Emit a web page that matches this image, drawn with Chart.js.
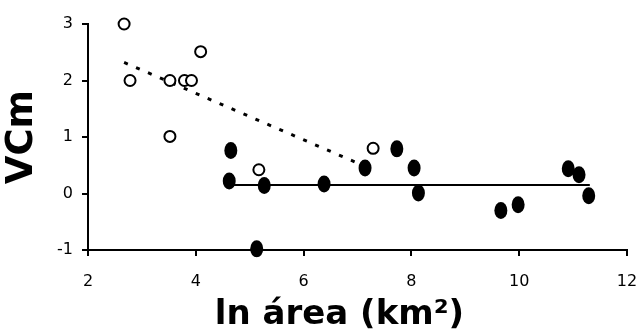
<!DOCTYPE html>
<html>
<head>
<meta charset="utf-8">
<script src="https://cdn.jsdelivr.net/npm/chart.js@4.4.0/dist/chart.umd.min.js"></script>
<style>
  html, body { margin: 0; padding: 0; background: #fff; }
  #wrap { width: 643px; height: 336px; }
</style>
</head>
<body>
<div id="wrap"><canvas id="chart" width="643" height="336"></canvas></div>
<script>
// open circles (x = ln area, y = VCm)
const openX = [2.67, 2.78, 3.52, 3.79, 3.92, 4.09, 3.52, 5.17, 7.29];
const openY = [3.0, 2.0, 2.0, 2.0, 2.0, 2.51, 1.01, 0.42, 0.80];

// filled circles
const filledX = [4.65, 4.62, 5.27, 6.38, 7.14, 7.73, 8.05, 8.13, 9.66, 9.98, 10.91, 11.11, 11.29, 5.13];
const filledY = [0.76, 0.22, 0.14, 0.17, 0.45, 0.79, 0.45, 0.01, -0.30, -0.20, 0.44, 0.33, -0.04, -0.98];

// fitted lines (two end points each)
const dottedX = [2.67, 7.29];
const dottedY = [2.32, 0.42];
const solidX = [4.70, 11.31];
const solidY = [0.15, 0.15];

const xTitle = 'ln área (km²)';
const yTitle = 'VCm';

function toPoints(xs, ys) {
    return xs.map((x, i) => ({ x: x, y: ys[i] }));
}

// filled markers in the reference are slightly taller than wide
// (svg image instead of a canvas, the canvas version rendered with a hole)
function ellipseMarker(w, h) {
    const svg = '<svg xmlns="http://www.w3.org/2000/svg" width="' + w + '" height="' + h + '">' +
        '<ellipse cx="' + w / 2 + '" cy="' + h / 2 + '" rx="' + (w / 2 - 0.5) + '" ry="' + (h / 2 - 0.5) +
        '" fill="#000"/></svg>';
    const img = new Image(w, h);
    img.src = 'data:image/svg+xml;charset=utf-8,' + encodeURIComponent(svg);
    return img;
}

// x axis title drawn by hand so it can sit a bit left of centre like the original
const xTitlePlugin = {
    id: 'xTitle',
    afterDraw(chart) {
        const c = chart.ctx;
        const area = chart.chartArea;
        c.save();
        c.font = 'bold 34px "DejaVu Sans"';
        c.fillStyle = '#000';
        c.textAlign = 'center';
        c.textBaseline = 'middle';
        c.fillText(xTitle, (area.left + area.right) / 2 - 18, 315);
        c.restore();
    }
};

function drawChart(marker) {
    const ctx = document.getElementById('chart').getContext('2d');
    new Chart(ctx, {
        type: 'scatter',
        data: {
            datasets: [
                {
                    label: 'filled',
                    data: toPoints(filledX, filledY),
                    pointStyle: marker,
                    pointRadius: 7,
                    order: 0
                },
                {
                    label: 'open',
                    data: toPoints(openX, openY),
                    pointStyle: 'circle',
                    pointRadius: 5.5,
                    borderWidth: 2,
                    borderColor: '#000',
                    backgroundColor: '#fff',
                    order: 1
                },
                {
                    label: 'fit open',
                    type: 'line',
                    data: toPoints(dottedX, dottedY),
                    borderColor: '#000',
                    borderWidth: 3,
                    borderDash: [4, 9],
                    pointRadius: 0,
                    fill: false,
                    order: 2
                },
                {
                    label: 'fit filled',
                    type: 'line',
                    data: toPoints(solidX, solidY),
                    borderColor: '#000',
                    borderWidth: 2,
                    pointRadius: 0,
                    fill: false,
                    order: 2
                }
            ]
        },
        options: {
            responsive: false,
            animation: false,
            events: [],
            clip: false,
            layout: {
                padding: { top: 24, right: 16, left: 0, bottom: 0 }
            },
            plugins: {
                legend: { display: false },
                tooltip: { enabled: false }
            },
            scales: {
                x: {
                    type: 'linear',
                    min: 2,
                    max: 12,
                    // big tick padding would otherwise eat into the right side
                    afterFit: s => { s.height = 86; s.paddingRight = 0; s.paddingLeft = 0; },
                    ticks: {
                        stepSize: 2,
                        padding: 16,
                        color: '#000',
                        font: { family: 'DejaVu Sans', size: 16 }
                    },
                    grid: {
                        drawOnChartArea: false,
                        drawTicks: true,
                        tickLength: 6,
                        color: '#000',
                        lineWidth: 2
                    },
                    border: { color: '#000', width: 2 },
                    title: { display: false }
                },
                y: {
                    type: 'linear',
                    min: -1,
                    max: 3,
                    afterFit: s => { s.width = 88; },
                    ticks: {
                        stepSize: 1,
                        padding: 9,
                        color: '#000',
                        font: { family: 'DejaVu Sans', size: 16 }
                    },
                    grid: {
                        drawOnChartArea: false,
                        drawTicks: true,
                        tickLength: 6,
                        color: '#000',
                        lineWidth: 2
                    },
                    border: { color: '#000', width: 2 },
                    title: {
                        display: true,
                        text: yTitle,
                        color: '#000',
                        padding: 0,
                        font: { family: 'DejaVu Sans', size: 37, weight: 'bold', lineHeight: 1.2 }
                    }
                }
            }
        },
        plugins: [xTitlePlugin]
    });
}

const marker = ellipseMarker(14, 18);
if (marker.complete && marker.naturalWidth) {
    drawChart(marker);
} else {
    marker.onload = () => drawChart(marker);
    marker.onerror = () => drawChart('circle');
}
</script>
</body>
</html>
